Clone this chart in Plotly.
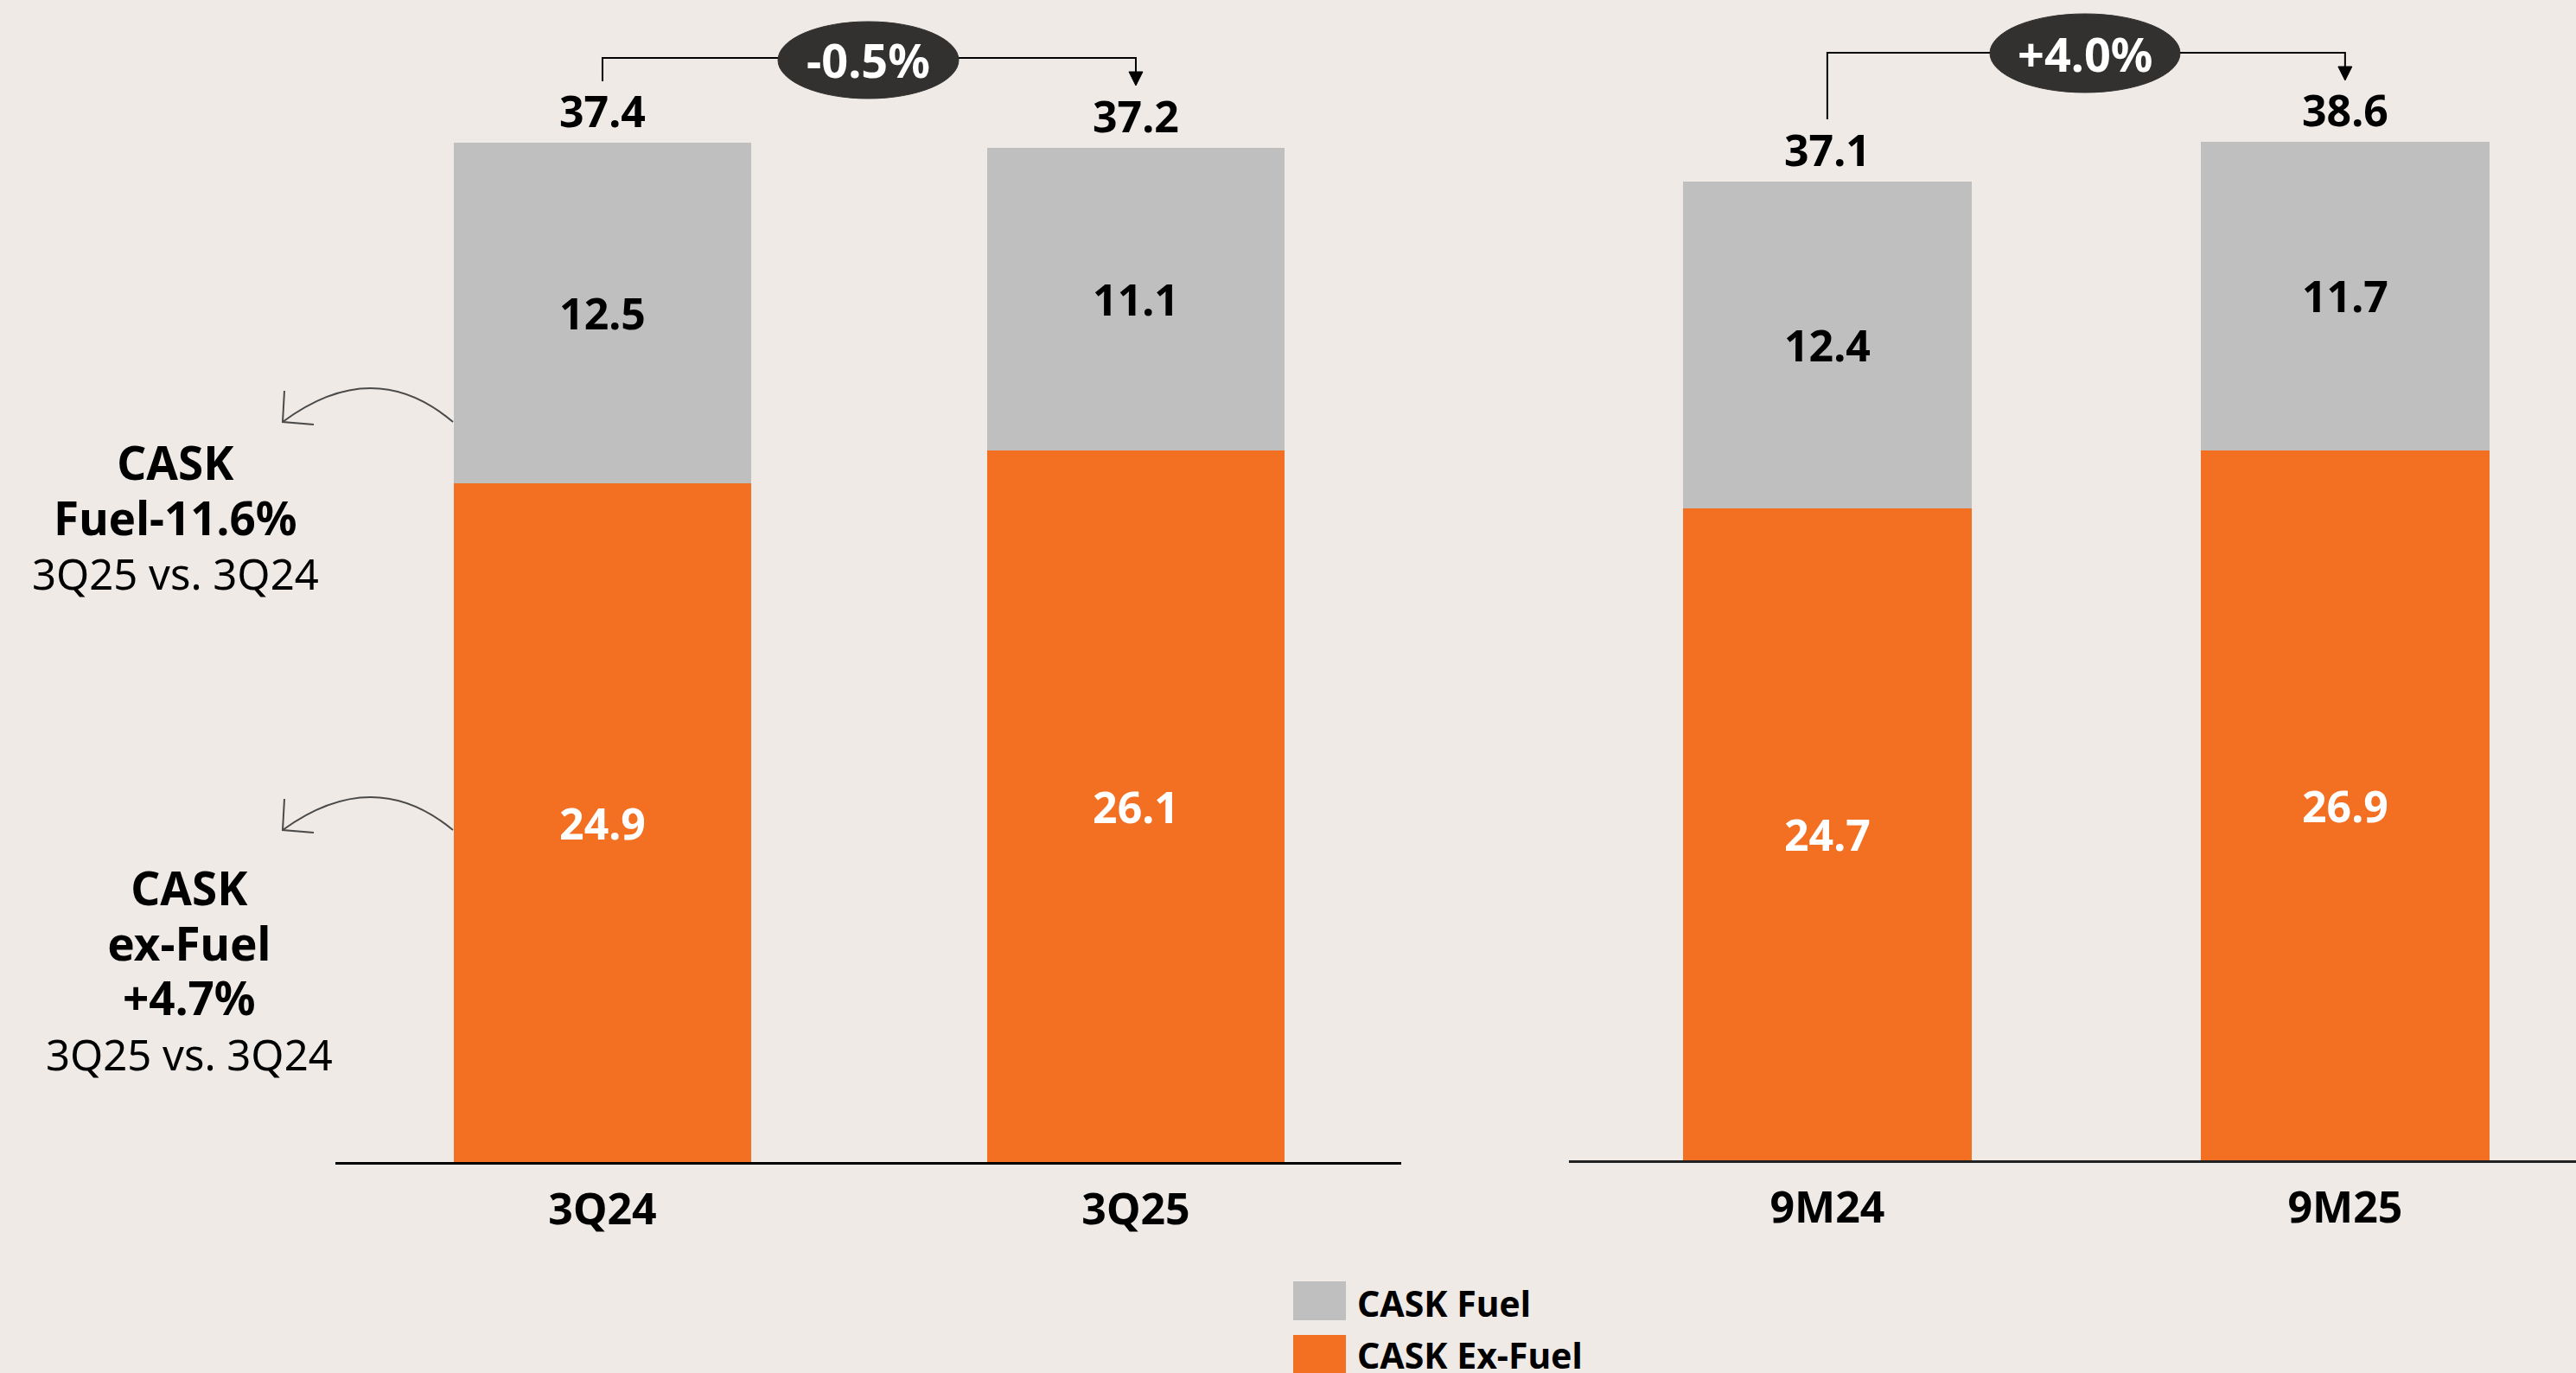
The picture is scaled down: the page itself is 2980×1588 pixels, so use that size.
import plotly.graph_objects as go

# ---------------- data ----------------
periods_q = ["3Q24", "3Q25"]
fuel_q = [12.5, 11.1]
exfuel_q = [24.9, 26.1]

periods_m = ["9M24", "9M25"]
fuel_m = [12.4, 11.7]
exfuel_m = [24.7, 26.9]

change_q = "-0.5%"
change_m = "+4.0%"

series_names = ["CASK Fuel", "CASK Ex-Fuel"]

# ---------------- styles ----------------
W, H = 2980, 1588
BG = "#EFEAE6"
GRAY = "#BFBFBF"
ORANGE = "#F37023"
DARK = "#32312F"
FONT = "Noto Sans"


def px(x):
    return x / W


def py(y):
    return 1 - y / H


fig = go.Figure()

# bars (ex-fuel bottom, fuel on top)
for xa, ya, cats, ex, fu in [("x", "y", periods_q, exfuel_q, fuel_q),
                             ("x2", "y2", periods_m, exfuel_m, fuel_m)]:
    xs = list(range(len(cats)))
    fig.add_trace(go.Bar(
        x=xs, y=ex, xaxis=xa, yaxis=ya, name=series_names[1],
        marker=dict(color=ORANGE, line=dict(width=0)), width=0.557,
        texttemplate="%{y:.1f}", textposition="inside", insidetextanchor="middle",
        textangle=0, insidetextfont=dict(family=FONT, size=50, color="white", weight="bold"),
        showlegend=False, hoverinfo="skip"))
    fig.add_trace(go.Bar(
        x=xs, y=fu, xaxis=xa, yaxis=ya, name=series_names[0],
        marker=dict(color=GRAY, line=dict(width=0)), width=0.557,
        texttemplate="%{y:.1f}", textposition="inside", insidetextanchor="middle",
        textangle=0, insidetextfont=dict(family=FONT, size=50, color="black", weight="bold"),
        showlegend=False, hoverinfo="skip"))
    # totals
    for i, (a, b) in enumerate(zip(ex, fu)):
        fig.add_annotation(x=i, y=a + b, xref=xa, yref=ya, text=f"{a + b:.1f}",
                           showarrow=False, yanchor="middle", yshift=37,
                           font=dict(family=FONT, size=50, color="black", weight="bold"))

axis_common = dict(showgrid=False, zeroline=False, ticks="", showline=True,
                   tickfont=dict(family=FONT, size=50, color="black", weight="bold"),
                   ticklabelstandoff=9, fixedrange=True)

fig.update_layout(
    width=W, height=H,
    margin=dict(l=0, r=0, t=0, b=0),
    paper_bgcolor=BG, plot_bgcolor=BG,
    barmode="stack", showlegend=False,
    xaxis=dict(domain=[px(388), px(1621)], range=[-0.5008, 1.4976],
               tickvals=[0, 1], ticktext=periods_q, anchor="y",
               linecolor="black", linewidth=3, **axis_common),
    yaxis=dict(domain=[py(1344), 1], range=[0, 1344 / 31.52], visible=False),
    xaxis2=dict(domain=[px(1815), 1], range=[-0.499, 1.446],
                tickvals=[0, 1], ticktext=periods_m, anchor="y2",
                linecolor="#222222", linewidth=3, **axis_common),
    yaxis2=dict(domain=[py(1342), 1], range=[0, 1342 / 30.52], visible=False),
)

shapes = []
LINE = dict(color="black", width=2)

# brackets with change bubbles
for xa, yline, ytop_left, ytip, ell, label in [
        ("x", 67, 94, 99, (900, 25, 1109, 114), change_q),
        ("x2", 61, 138, 93, (2302, 16, 2522, 107), change_m)]:
    shapes.append(dict(type="path", xref=xa, yref="paper",
                       path=f"M 0,{py(ytop_left)} L 0,{py(yline)} L 1,{py(yline)} L 1,{py(ytip - 14)}",
                       line=LINE))
    hw = 8 / (617 if xa == "x" else 599)
    shapes.append(dict(type="path", xref=xa, yref="paper",
                       path=f"M {1 - hw},{py(ytip - 16)} L {1 + hw},{py(ytip - 16)} L 1,{py(ytip)} Z",
                       fillcolor="black", line=dict(color="black", width=1)))
    x0, y0, x1, y1 = ell
    shapes.append(dict(type="circle", xref="paper", yref="paper",
                       x0=px(x0), x1=px(x1), y0=py(y1), y1=py(y0),
                       fillcolor=DARK, line=dict(color=DARK, width=1)))
    fig.add_annotation(x=px((x0 + x1) / 2), y=py((y0 + y1) / 2), xref="paper", yref="paper",
                       text=label, showarrow=False, xanchor="center", yanchor="middle",
                       font=dict(family=FONT, size=54, color="white", weight="bold"))

# curved call-out arrows on the left
ARC = dict(color="#4A4A4A", width=2)
for ys, ypk in [(488, 449), (960, 922)]:
    cy = 2 * ypk - ys
    shapes.append(dict(type="path", xref="paper", yref="paper",
                       path=f"M {px(524)},{py(ys)} Q {px(432)},{py(cy)} {px(327)},{py(ys)}",
                       line=ARC))
    shapes.append(dict(type="path", xref="paper", yref="paper",
                       path=f"M {px(329)},{py(ys - 36)} L {px(327)},{py(ys)} L {px(363)},{py(ys + 3)}",
                       line=ARC))

# left side text blocks (one annotation per block)
def bold(t):
    return f"<b><span style='font-size:53px'>{t}</span></b>"


blocks = [
    (203, 597, [bold("CASK"), bold("Fuel-11.6%"), "3Q25 vs. 3Q24"]),
    (219, 1121, [bold("CASK"), bold("ex-Fuel"), bold("+4.7%"), "3Q25 vs. 3Q24"]),
]
for xc, yc, lines in blocks:
    fig.add_annotation(x=px(xc), y=py(yc), xref="paper", yref="paper",
                       text="<br>".join(lines), align="center",
                       showarrow=False, xanchor="center", yanchor="middle",
                       font=dict(family=FONT, size=49, color="black"))

# legend (manual swatches)
for (name, color, y0, y1, yc) in [(series_names[0], GRAY, 1482, 1527, 1507),
                                  (series_names[1], ORANGE, 1544, 1600, 1567)]:
    shapes.append(dict(type="rect", xref="paper", yref="paper",
                       x0=px(1496), x1=px(1557), y0=py(y1), y1=py(y0),
                       fillcolor=color, line=dict(width=0)))
    fig.add_annotation(x=px(1568), y=py(yc), xref="paper", yref="paper", text=name,
                       showarrow=False, xanchor="left", yanchor="middle",
                       font=dict(family=FONT, size=41, color="black", weight="bold"))

fig.update_layout(shapes=shapes)
fig.write_html("out.html", config={"displayModeBar": False},
               post_script="document.body.style.margin='0';document.body.style.overflow='hidden';")
